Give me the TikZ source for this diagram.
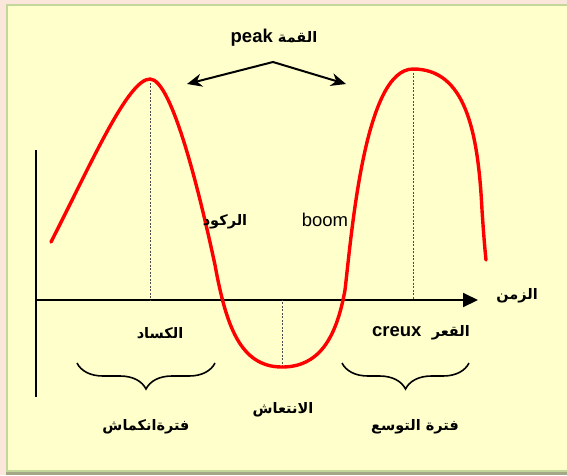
\documentclass[tikz,border=0pt]{standalone}
\usepackage{fontspec}
\setmainfont{Liberation Sans}
\newfontfamily\arabicfont[Script=Arabic]{DejaVu Sans}
\TeXXeTstate=1
\usetikzlibrary{arrows.meta, positioning, decorations.pathreplacing, calc}
\definecolor{pagebg}{RGB}{251,230,220}
\definecolor{panelbg}{RGB}{255,255,204}
\definecolor{panelrim}{RGB}{196,215,155}
\definecolor{panelshade}{RGB}{165,168,135}
\definecolor{cyclered}{RGB}{255,0,0}
\newcommand{\artxt}[1]{{\fontsize{14.5}{18}\selectfont\arabicfont\bfseries\beginR #1\endR}}
\tikzset{
  lbl/.style    = {font=\fontsize{18.5}{22}\selectfont\bfseries, inner sep=1pt},
  plainlbl/.style = {font=\fontsize{18.5}{22}\selectfont, inner sep=1pt},
  arlbl/.style  = {inner sep=1pt},
  axis/.style   = {line width=2pt, -{Triangle[length=15pt, width=14pt]}},
  guide/.style  = {black!70, line width=0.6pt, dash pattern=on 2pt off 1.5pt},
  pointer/.style = {line width=2pt, -{Stealth[length=15pt, width=13pt]}},
  cycle/.style  = {cyclered, line width=3.4pt, line cap=round},
  period/.style = {line width=1.6pt, decorate,
                   decoration={brace, amplitude=26pt, mirror}},
}

\begin{document}
\begin{tikzpicture}[x=1pt, y=-1pt]
  \useasboundingbox (0,0) rectangle (567,475);
  % frame
  \fill[pagebg] (0,0) rectangle (567,475);
  \fill[panelshade] (6,472) rectangle (567,475);
  \draw[panelrim, line width=2.2pt, fill=panelbg] (7,5) rectangle (570,471);

  % axes
  \coordinate (O) at (36,300);
  \coordinate (ytop) at (36,150);
  \coordinate (ybot) at (36,397);
  \coordinate (xend) at (478,300);
  \draw[line width=1.6pt] (ytop) -- (ybot);
  \draw[axis] (O) -- (xend);

  % turning points
  \coordinate (start) at (51,242);
  \coordinate (top1) at (150,79);
  \coordinate (fall) at (215,265);
  \coordinate (low) at (282,367);
  \coordinate (rise) at (345,290);
  \coordinate (top2) at (413,69);
  \coordinate (drop) at (482,210);
  \coordinate (stop) at (486,260);

  \draw[guide] (top1) -- (top1 |- O);
  \draw[guide] (low) -- (low |- O);
  \draw[guide] (top2) -- (top2 |- O);

  \draw[cycle] (start) .. controls (91,164) and (128,79) .. (top1)
    .. controls (172,79) and (200,195) .. (fall)
    .. controls (226,325) and (240,367) .. (low)
    .. controls (318,367) and (336,340) .. (rise)
    .. controls (352,230) and (365,69) .. (top2)
    .. controls (465,69) and (478,130) .. (drop)
    .. controls (484,240) and (485,250) .. (stop);

  % peak arrows
  \coordinate (apex) at (273,62);
  \coordinate (tipL) at (187,84);
  \coordinate (tipR) at (346,84);
  \draw[pointer] (apex) -- (tipL);
  \draw[pointer] (apex) -- (tipR);

  % labels
  \node[lbl] (peak) at (274,38) {peak \artxt{القمة}};
  \node[arlbl] (rukud) at (225,222) {\artxt{الركود}};
  \node[plainlbl] (boom) at (325,220) {boom};
  \node[arlbl] (kasad) at (160,333) {\artxt{الكساد}};
  \node[lbl] (creux) at (421,333) {creux\ \ \artxt{القعر}};
  \node[arlbl] (intiash) at (283,410) {\artxt{الانتعاش}};
  \node[arlbl] (zaman) at (517,296) {\artxt{الزمن}};

  % periods
  \coordinate (b1L) at (77,363);
  \coordinate (b1R) at (215,363);
  \coordinate (b2L) at (342,363);
  \coordinate (b2R) at (469,363);
  \draw[period] (b1L) -- (b1R);
  \draw[period] (b2L) -- (b2R);
  \node[arlbl] (shrink) at (146,427) {\artxt{فترةانكماش}};
  \node[arlbl] (grow) at (415,427) {\artxt{فترة التوسع}};
\end{tikzpicture}
\end{document}
